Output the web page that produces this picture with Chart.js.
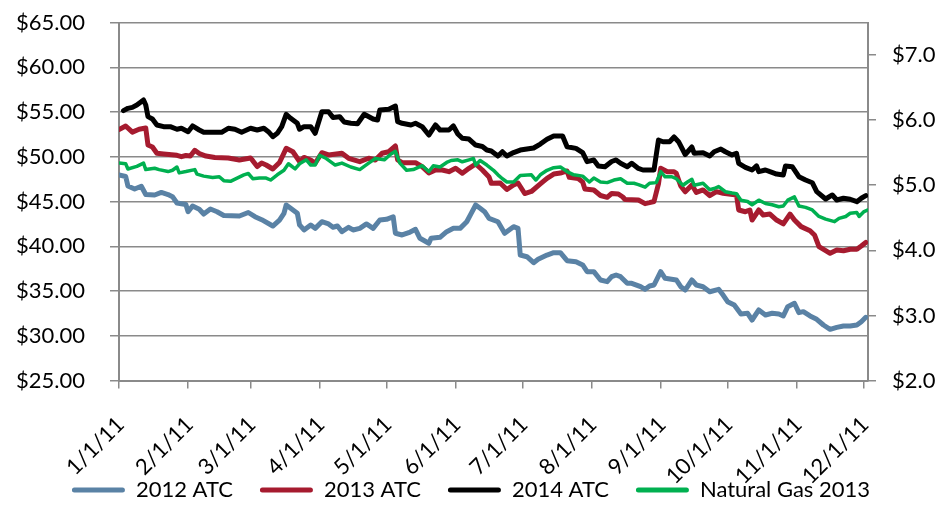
<!DOCTYPE html>
<html>
<head>
<meta charset="utf-8">
<script src="https://cdn.jsdelivr.net/npm/chart.js@4.4.1/dist/chart.umd.min.js"></script>
<style>
html,body{margin:0;padding:0;background:#fff;}
#wrap{width:942px;height:516px;position:relative;}
</style>
</head>
<body>
<div id="wrap"><canvas id="c" width="942" height="516"></canvas></div>
<script>
// X axis: day of year 2011 (0 = 1/1/11)
const monthTickDays = [0,31,59,90,120,151,181,212,243,273,304,334];
const monthTickLabels = ['1/1/11','2/1/11','3/1/11','4/1/11','5/1/11','6/1/11','7/1/11','8/1/11','9/1/11','10/1/11','11/1/11','12/1/11'];
const priceTicks = [25,30,35,40,45,50,55,60,65];
const gasTicks = [2,3,4,5,6,7];
const seriesNames = ['2012 ATC','2013 ATC','2014 ATC','Natural Gas 2013'];

// [day, $/MWh]
const atc2012 = [[0,47.96],[3,47.79],[4,46.73],[7,46.40],[10,46.70],[12,45.78],[16,45.73],[19,46.01],[22,45.78],[24,45.54],[26,44.83],[30,44.66],[31,43.86],[33,44.50],[36,44.13],[38,43.60],[41,44.16],[44,43.86],[47,43.44],[54,43.38],[58,43.77],[61,43.30],[64,42.97],[69,42.26],[72,42.93],[74,43.68],[75,44.61],[77,44.24],[80,43.68],[81,42.38],[83,41.82],[86,42.38],[88,42.00],[91,42.74],[94,42.49],[96,42.12],[98,42.26],[100,41.63],[103,42.12],[105,41.82],[108,42.00],[111,42.49],[114,42.00],[117,42.93],[120,43.01],[123,43.30],[124,41.45],[127,41.26],[130,41.52],[133,41.89],[135,40.89],[139,40.33],[140,40.89],[144,41.00],[147,41.63],[150,42.00],[153,42.00],[156,42.74],[158,43.68],[160,44.61],[162,44.24],[164,43.86],[166,43.12],[170,42.74],[173,41.45],[175,41.82],[177,42.19],[179,42.00],[180,39.02],[183,38.83],[186,38.16],[188,38.54],[192,39.02],[195,39.28],[198,39.28],[201,38.39],[205,38.27],[208,37.91],[210,37.16],[213,37.16],[216,36.23],[219,36.04],[221,36.60],[223,36.79],[225,36.60],[228,35.86],[230,35.86],[234,35.48],[236,35.19],[238,35.56],[240,35.67],[243,37.16],[245,36.42],[250,36.23],[252,35.48],[254,35.11],[257,36.23],[259,35.67],[262,35.48],[265,34.92],[269,35.19],[271,34.55],[273,33.81],[276,33.43],[279,32.43],[282,32.51],[284,31.76],[287,32.88],[290,32.32],[293,32.51],[296,32.43],[298,32.21],[300,33.25],[303,33.63],[305,32.58],[307,32.69],[310,32.21],[313,31.84],[316,31.20],[319,30.72],[322,30.94],[325,31.09],[328,31.09],[331,31.20],[333,31.57],[335,32.06]];

const atc2013 = [[0,53.05],[3,53.44],[6,52.75],[9,53.07],[12,53.21],[13,51.31],[15,51.09],[17,50.39],[20,50.31],[26,50.16],[28,50.01],[30,50.14],[32,50.08],[34,50.72],[36,50.36],[39,50.08],[43,49.92],[49,49.86],[54,49.64],[59,49.86],[60,49.56],[62,48.91],[64,49.30],[66,49.08],[69,48.63],[72,49.36],[75,50.94],[78,50.56],[81,49.47],[83,49.92],[86,49.64],[88,49.27],[91,50.45],[94,50.20],[100,50.39],[103,49.83],[108,49.45],[112,49.83],[115,49.64],[118,50.39],[121,50.56],[124,51.20],[125,49.64],[127,49.34],[133,49.34],[136,48.89],[139,48.19],[142,48.52],[145,48.52],[148,48.33],[151,48.71],[154,48.15],[157,48.71],[160,49.19],[163,48.52],[166,47.74],[167,47.03],[171,47.07],[174,46.34],[177,46.85],[179,47.07],[182,45.89],[185,46.12],[189,46.96],[192,47.59],[195,48.07],[198,48.18],[201,48.41],[202,47.70],[206,47.57],[208,47.18],[209,46.40],[213,46.29],[216,45.67],[219,45.47],[221,45.89],[224,45.84],[226,45.50],[227,45.22],[233,45.17],[236,44.76],[238,44.87],[240,45.00],[242,46.96],[243,48.71],[246,48.33],[249,48.33],[250,48.15],[252,46.73],[254,46.09],[257,46.85],[259,46.01],[262,46.29],[265,45.65],[268,46.10],[271,45.92],[277,45.73],[278,44.05],[281,43.86],[283,44.05],[284,42.93],[287,44.05],[289,43.49],[292,43.60],[295,42.93],[298,42.49],[301,43.60],[303,42.93],[306,42.19],[310,41.74],[312,41.26],[314,39.95],[317,39.50],[319,39.21],[322,39.58],[325,39.50],[328,39.66],[331,39.66],[333,40.03],[335,40.42]];

const atc2014 = [[2,55.15],[4,55.41],[6,55.52],[8,55.78],[11,56.34],[12,55.78],[13,54.48],[15,54.22],[17,53.55],[20,53.36],[23,53.36],[26,53.07],[28,53.18],[31,52.80],[33,53.44],[36,52.99],[38,52.73],[46,52.73],[49,53.18],[52,53.07],[55,52.73],[59,53.18],[62,52.99],[65,53.18],[67,52.80],[69,52.24],[71,52.62],[73,53.36],[75,54.74],[77,54.30],[80,53.74],[81,53.07],[83,53.36],[86,53.36],[88,52.62],[91,55.03],[94,55.03],[96,54.39],[99,54.48],[101,53.88],[104,53.74],[107,53.69],[110,54.75],[114,54.22],[116,54.11],[117,55.22],[121,55.30],[124,55.67],[125,53.92],[127,53.74],[131,53.55],[133,53.74],[136,53.36],[139,52.43],[142,53.55],[144,52.99],[148,52.99],[150,53.44],[152,52.54],[154,52.06],[157,51.98],[160,51.31],[163,51.15],[165,50.75],[167,50.64],[170,50.08],[172,50.56],[174,50.08],[177,50.47],[180,50.75],[186,50.98],[189,51.42],[192,51.95],[195,52.32],[199,52.32],[201,51.12],[205,50.94],[208,50.47],[210,49.45],[213,49.64],[215,48.97],[218,48.89],[221,49.47],[223,49.64],[225,49.27],[228,48.89],[230,49.27],[233,48.69],[235,48.52],[240,48.52],[242,51.87],[244,51.68],[247,51.68],[249,52.21],[251,51.68],[254,50.25],[257,51.09],[258,50.39],[262,50.45],[265,50.08],[267,50.56],[270,50.86],[272,50.56],[275,50.20],[277,50.39],[278,49.27],[281,48.82],[284,48.52],[286,48.97],[287,48.33],[290,48.52],[292,48.33],[295,48.07],[298,47.96],[299,48.97],[302,48.89],[305,47.77],[308,47.40],[311,47.10],[313,46.10],[317,45.28],[320,45.73],[322,45.17],[325,45.36],[328,45.25],[331,44.98],[333,45.36],[335,45.65]];

// [day, $/MMBtu] on right axis
const gas2013 = [[0,5.34],[3,5.33],[4,5.25],[8,5.29],[11,5.34],[12,5.24],[16,5.26],[18,5.24],[22,5.21],[24,5.23],[26,5.28],[27,5.19],[30,5.21],[34,5.24],[35,5.17],[38,5.14],[42,5.12],[45,5.13],[47,5.07],[50,5.06],[53,5.11],[56,5.16],[58,5.18],[60,5.10],[63,5.11],[66,5.11],[68,5.08],[71,5.16],[74,5.23],[76,5.33],[79,5.25],[81,5.33],[84,5.39],[86,5.31],[88,5.31],[90,5.46],[93,5.41],[97,5.31],[100,5.34],[104,5.28],[108,5.24],[112,5.34],[115,5.41],[119,5.39],[122,5.48],[124,5.52],[126,5.34],[129,5.23],[132,5.24],[136,5.30],[139,5.21],[141,5.30],[144,5.28],[147,5.35],[149,5.38],[152,5.39],[154,5.36],[157,5.39],[159,5.41],[160,5.31],[162,5.38],[165,5.31],[168,5.23],[170,5.16],[172,5.10],[174,5.05],[177,5.05],[180,5.15],[185,5.16],[187,5.08],[189,5.16],[192,5.23],[195,5.27],[198,5.28],[201,5.21],[204,5.16],[208,5.14],[211,5.05],[213,5.11],[216,5.05],[219,5.04],[222,5.08],[225,5.10],[228,5.03],[231,5.03],[233,5.01],[236,4.97],[238,5.03],[241,5.04],[243,5.21],[245,5.13],[248,5.13],[250,5.10],[253,5.00],[255,5.05],[257,5.09],[258,5.00],[262,5.03],[265,4.93],[267,4.95],[269,4.98],[272,4.90],[275,4.88],[277,4.87],[279,4.77],[282,4.75],[284,4.70],[287,4.77],[290,4.72],[293,4.70],[296,4.67],[298,4.68],[300,4.77],[303,4.82],[305,4.68],[308,4.66],[311,4.62],[314,4.52],[317,4.48],[321,4.44],[323,4.49],[326,4.52],[328,4.57],[331,4.58],[332,4.52],[334,4.59],[336,4.62]];

const toXY = arr => arr.map(p => ({x: p[0], y: p[1]}));

const BLUE = '#5A82A5', RED = '#A61B2F', BLACK = '#000000', GREEN = '#00B050';
const GRID = '#8A8A8A';
const FONT = {family: 'Lato', size: 22};
Chart.defaults.font.family = 'Lato';
Chart.defaults.font.size = 22;
Chart.defaults.color = '#000';

// Rotated date labels drawn at the x scale's own tick pixels
const xLabelPlugin = {
  id: 'xLabels',
  afterDraw(chart) {
    const s = chart.scales.x;
    const ctx = chart.ctx;
    ctx.save();
    ctx.font = '22px Lato';
    ctx.fillStyle = '#000';
    ctx.textAlign = 'right';
    ctx.textBaseline = 'middle';
    s.ticks.forEach((t, i) => {
      const x = s.getPixelForValue(t.value) + 1.5;
      const y = s.top + 40.5;
      ctx.save();
      ctx.translate(x, y);
      ctx.rotate(-Math.PI / 4);
      ctx.fillText(monthTickLabels[i], 0, 0);
      ctx.restore();
    });
    ctx.restore();
  }
};

new Chart(document.getElementById('c'), {
  type: 'line',
  data: {
    datasets: [
      {label: seriesNames[0], data: toXY(atc2012), borderColor: BLUE, backgroundColor: BLUE, borderWidth: 5, yAxisID: 'y', order: 3},
      {label: seriesNames[1], data: toXY(atc2013), borderColor: RED, backgroundColor: RED, borderWidth: 5, yAxisID: 'y', order: 2},
      {label: seriesNames[2], data: toXY(atc2014), borderColor: BLACK, backgroundColor: BLACK, borderWidth: 5, yAxisID: 'y', order: 1},
      {label: seriesNames[3], data: toXY(gas2013), borderColor: GREEN, backgroundColor: GREEN, borderWidth: 3.5, yAxisID: 'y1', order: 0}
    ]
  },
  plugins: [xLabelPlugin],
  options: {
    responsive: false,
    animation: false,
    elements: {
      point: {radius: 0, hoverRadius: 0},
      line: {tension: 0, borderJoinStyle: 'round', borderCapStyle: 'round', fill: false}
    },
    layout: {padding: {top: 22.5, bottom: 5, left: 0, right: 0}},
    plugins: {
      legend: {
        position: 'bottom',
        labels: {
          boxWidth: 53, boxHeight: 5, padding: 27, font: FONT, color: '#000',
          sort: (a, b) => a.datasetIndex - b.datasetIndex,
          generateLabels: (chart) => Chart.defaults.plugins.legend.labels.generateLabels(chart)
            .map(l => Object.assign({}, l, {lineWidth: 0, fillStyle: l.strokeStyle, borderRadius: 2.5}))
        }
      },
      tooltip: {enabled: false}
    },
    scales: {
      x: {
        type: 'linear', min: 0, max: 336,
        afterBuildTicks: s => { s.ticks = monthTickDays.map(v => ({value: v})); },
        afterFit: s => { s.height = 71.5; s.paddingLeft = 0; s.paddingRight = 0; },
        ticks: {display: false, autoSkip: false, callback: (v, i) => monthTickLabels[i]},
        grid: {drawOnChartArea: false, drawTicks: true, tickLength: 8, color: GRID, lineWidth: 1.5},
        border: {color: GRID, width: 2}
      },
      y: {
        position: 'left', min: 25, max: 65,
        afterBuildTicks: s => { s.ticks = priceTicks.map(v => ({value: v})); },
        afterFit: s => { s.width = 119; s.paddingTop = 0; s.paddingBottom = 0; },
        ticks: {padding: 25, font: FONT, color: '#000', callback: v => '$' + Number(v).toFixed(2)},
        grid: {color: GRID, lineWidth: 1.5, tickLength: 9},
        border: {color: GRID, width: 2}
      },
      y1: {
        position: 'right', min: 2, max: 7.5,
        afterBuildTicks: s => { s.ticks = gasTicks.map(v => ({value: v})); },
        afterFit: s => { s.width = 74; s.paddingTop = 0; s.paddingBottom = 0; },
        ticks: {padding: 16, font: FONT, color: '#000', callback: v => '$' + Number(v).toFixed(1)},
        grid: {drawOnChartArea: false, color: GRID, lineWidth: 1.5, tickLength: 8},
        border: {color: GRID, width: 2}
      }
    }
  }
});
</script>
</body>
</html>
